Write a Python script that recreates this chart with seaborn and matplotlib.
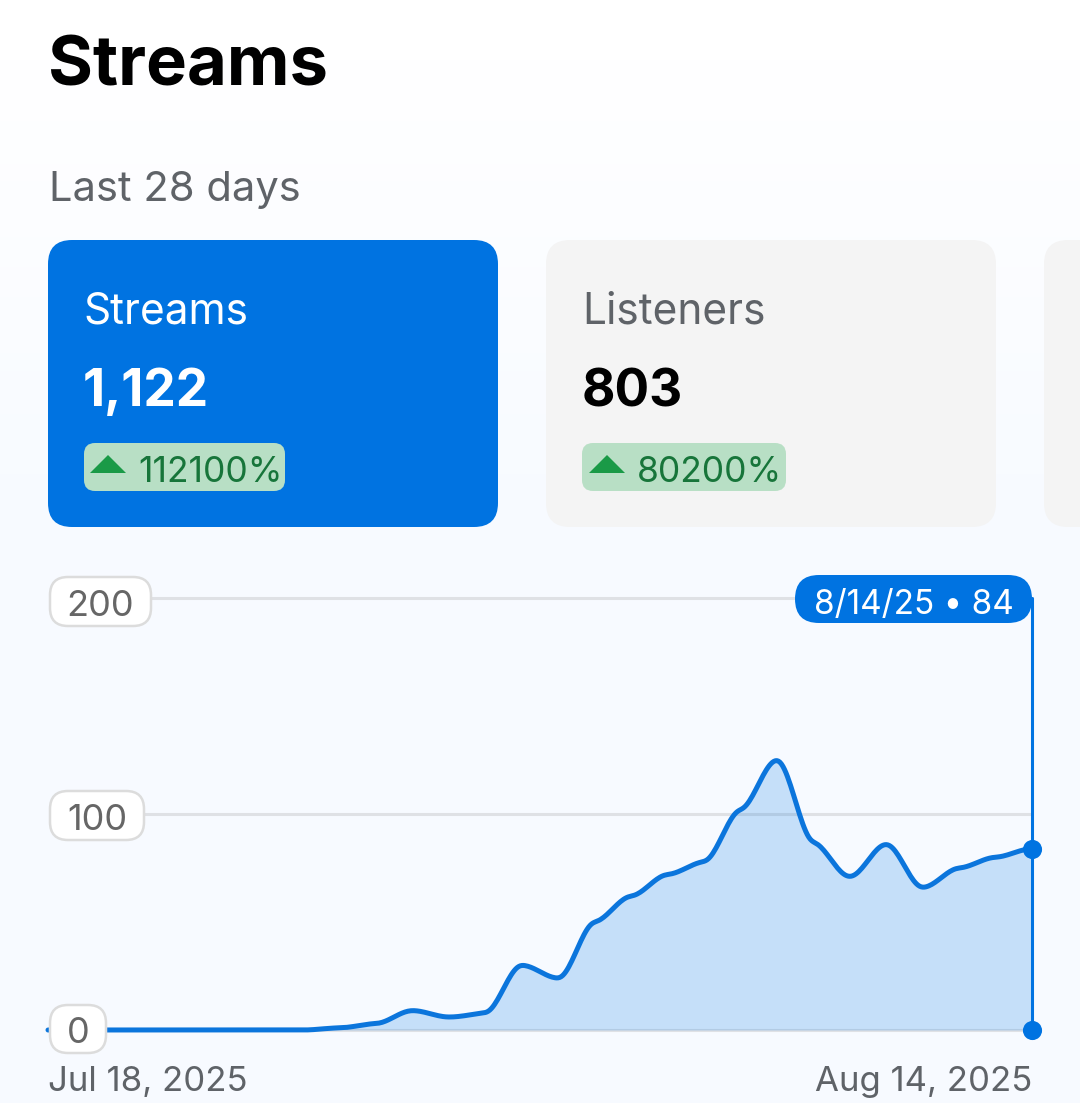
import numpy as np
import pandas as pd
import matplotlib
matplotlib.use("Agg")
import matplotlib.pyplot as plt
from matplotlib.patches import FancyBboxPatch, Polygon
import seaborn as sns

days = list(range(28))
streams = [0, 0, 0, 0, 0, 0, 0, 0, 1, 3, 9, 6, 8, 30, 24, 50, 62, 72, 78, 102, 125, 87, 71, 86, 66, 75, 80, 84]
y_ticks = [0, 100, 200]
y_labels = ["0", "100", "200"]
x_labels = ["Jul 18, 2025", "Aug 14, 2025"]
card_names = ["Streams", "Listeners"]
card_values = ["1,122", "803"]
card_changes = ["112100%", "80200%"]

BLUE = "#0073e1"
GRAY_TEXT = "#5f6368"

sns.set_theme(style="white")
plt.rcParams["font.family"] = ["Inter", "DejaVu Sans"]


def smooth(x, y, tension=0.14, n=24):
    # hermite segments with flat tangents at the peaks, then a light blur for round corners
    x = np.asarray(x, float)
    y = np.asarray(y, float)
    m = np.gradient(y, x) * tension
    for i in range(1, len(x) - 1):
        if (y[i] - y[i - 1]) * (y[i + 1] - y[i]) <= 0:
            m[i] = 0
    xs, ys = [], []
    for i in range(len(x) - 1):
        t = np.linspace(0, 1, n, endpoint=False)
        h = x[i + 1] - x[i]
        a = 2 * t**3 - 3 * t**2 + 1
        b = t**3 - 2 * t**2 + t
        c = -2 * t**3 + 3 * t**2
        d = t**3 - t**2
        xs.append(x[i] + t * h)
        ys.append(a * y[i] + b * h * m[i] + c * y[i + 1] + d * h * m[i + 1])
    xs = np.append(np.concatenate(xs), x[-1])
    ys = np.append(np.concatenate(ys), y[-1])
    kernel = np.hanning(9)
    kernel = kernel / kernel.sum()
    k = len(kernel) // 2
    padded = np.concatenate([np.full(k, ys[0]), ys, np.full(k, ys[-1])])
    return xs, np.convolve(padded, kernel, mode="valid")


W, H = 1080, 1103
fig = plt.figure(figsize=(W / 100, H / 100), dpi=100)

# page layer in pixel coordinates
ui = fig.add_axes([0, 0, 1, 1], zorder=0)
ui.set_xlim(0, W)
ui.set_ylim(H, 0)
ui.axis("off")
grad = np.clip((np.linspace(0, H, 256) - 60) / 450, 0, 1)[:, None, None]
bg = (1 - grad) * np.array([1, 1, 1.0]) + grad * np.array([0.97, 0.983, 1.0])
ui.imshow(bg, extent=[0, W, H, 0], aspect="auto", zorder=0)

ui.text(48, 68, "Streams", fontsize=49.5, fontweight="bold", color="black", va="center", ha="left")
ui.text(49, 190, "Last 28 days", fontsize=30, color=GRAY_TEXT, va="center", ha="left")


def rbox(axis, x0, y0, x1, y1, r, **kw):
    p = FancyBboxPatch((x0 + r, y0 + r), x1 - x0 - 2 * r, y1 - y0 - 2 * r,
                       boxstyle=f"round,pad={r},rounding_size={r}", **kw)
    axis.add_patch(p)


rbox(ui, 48, 240, 498, 527, 24, fc=BLUE, ec="none", zorder=1)
rbox(ui, 546, 240, 996, 527, 24, fc="#f4f4f4", ec="none", zorder=1)
rbox(ui, 1044, 240, 1200, 527, 24, fc="#f4f4f4", ec="none", zorder=1)

card_left = [84, 583]
badge_right = [285, 786]
name_colors = ["white", GRAY_TEXT]
value_colors = ["white", "black"]
for i in range(2):
    x = card_left[i]
    ui.text(x - 1, 312, card_names[i], fontsize=30.5, color=name_colors[i], va="center", ha="left", zorder=3)
    ui.text(x - 1, 393, card_values[i], fontsize=37, fontweight="bold", color=value_colors[i], va="center", ha="left", zorder=3)
    rbox(ui, x - (0 if i == 0 else 1), 443, badge_right[i], 491, 11, fc="#b8dfc5", ec="none", zorder=2)
    ui.add_patch(Polygon([[x + 6, 473], [x + 42, 473], [x + 24, 455]], fc="#1a9a47", ec="none", zorder=3))
    ui.text(x + 54, 472, card_changes[i], fontsize=25.5, color="#17753a", va="center", ha="left", zorder=3)

# chart layer
left, right, top, bottom = 48, 1032, 598, 1030
ax = fig.add_axes([left / W, 1 - bottom / H, (right - left) / W, (bottom - top) / H], zorder=2)
ax.patch.set_alpha(0)
ax.set_xlim(days[0], days[-1])
ax.set_ylim(y_ticks[0], y_ticks[-1])
for s in ax.spines.values():
    s.set_visible(False)
ax.set_xticks([])
ax.set_yticks([])

for v in y_ticks:
    ax.axhline(v, xmin=0.03, color="#dfe1e5", lw=2.2, zorder=1, clip_on=False)

xs, ys = smooth(days, streams)
df = pd.DataFrame({"day": xs, "streams": ys})
ax.fill_between(xs, 0, ys, color=BLUE, alpha=0.2, lw=0, zorder=2)
sns.lineplot(data=df, x="day", y="streams", ax=ax, color="#0b75dc", lw=3.6, errorbar=None,
             estimator=None, sort=False, zorder=3, clip_on=False)
ax.set_xlabel("")
ax.set_ylabel("")

# hover marker on the last day
last = days[-1]
ax.plot([last, last], [0, y_ticks[-1]], color=BLUE, lw=2.2, zorder=4, clip_on=False)
ax.scatter([last, last], [streams[-1], 0], s=190, color=BLUE, lw=0, zorder=5, clip_on=False)

ax.text(days[0], -24, x_labels[0], fontsize=25, color=GRAY_TEXT, ha="left", va="center", clip_on=False)
ax.text(days[-1], -24, x_labels[1], fontsize=25, color=GRAY_TEXT, ha="right", va="center", clip_on=False)

# pills sit above the chart
over = fig.add_axes([0, 0, 1, 1], zorder=3)
over.patch.set_alpha(0)
over.set_xlim(0, W)
over.set_ylim(H, 0)
over.axis("off")

pill_boxes = [(49, 1004, 107, 1054), (49, 790, 145, 841), (49, 576, 152, 627)]
for box, lab in zip(pill_boxes, y_labels):
    x0, y0, x1, y1 = box
    rbox(over, x0 + 1, y0 + 1, x1 - 1, y1 - 1, 18, fc="white", ec="#dcdcdc", lw=1.8, zorder=1)
    over.text((x0 + x1) / 2, (y0 + y1) / 2 + 1, lab, fontsize=26, color="#666666", ha="center", va="center_baseline", zorder=2)

rbox(over, 795, 575, 1032, 623, 24, fc=BLUE, ec="none", zorder=1)
over.text(914, 601, f"8/14/25 \u2022 {streams[-1]}", fontsize=24, color="white", ha="center", va="center_baseline", zorder=2)

fig.savefig("out.png", dpi=100)
